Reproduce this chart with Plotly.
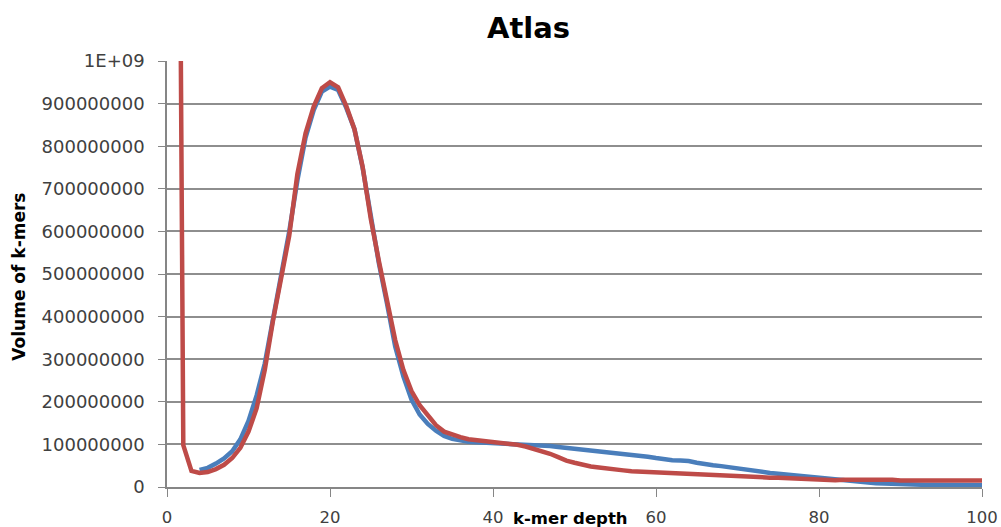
import plotly.graph_objects as go

# ---- data ----
red_depth = list(range(1, 101))
red_volume = [
    3.1e9, 98e6, 38e6, 33e6, 35e6, 42e6, 52e6, 68e6, 92e6, 130e6,
    185e6, 275e6, 390e6, 490e6, 590e6, 735e6, 830e6, 893e6, 936e6, 950e6,
    938e6, 894e6, 840e6, 752e6, 630e6, 530e6, 440e6, 345e6, 275e6, 225e6,
    192e6, 168e6, 145e6, 130e6, 123e6, 117e6, 112e6, 110e6, 108e6, 106e6,
    104e6, 102e6, 99e6, 95e6, 90e6, 85e6, 78e6, 70e6, 62e6, 57e6,
    52e6, 48e6, 46e6, 43e6, 41e6, 39e6, 37e6, 36e6, 35e6, 34e6,
    33e6, 32e6, 32e6, 32e6, 30e6, 28e6, 28e6, 28e6, 27e6, 26e6,
    24e6, 23e6, 23e6, 22e6, 22e6, 21e6, 21e6, 20e6, 19e6, 17e6,
    16e6, 16e6, 17e6, 17e6, 18e6, 18e6, 18e6, 18e6, 17e6, 15e6,
    15e6, 15e6, 15e6, 15e6, 15e6, 15e6, 15e6, 15e6, 15e6, 15e6,
]

blue_depth = list(range(4, 101))
blue_volume = [
    40e6, 45e6, 55e6, 67e6, 84e6, 112e6, 155e6,
    215e6, 290e6, 395e6, 500e6, 600e6, 720e6, 820e6, 885e6, 928e6, 940e6,
    932e6, 890e6, 840e6, 750e6, 630e6, 525e6, 430e6, 330e6, 260e6, 205e6,
    170e6, 148e6, 132e6, 120e6, 113e6, 109e6, 106e6, 105e6, 104e6, 103e6,
    103e6, 103e6, 102e6, 101e6, 100e6, 98e6, 96e6, 94e6, 92e6, 91e6,
    89e6, 87e6, 85e6, 83e6, 81e6, 79e6, 77e6, 74e6, 71e6, 68e6,
    65e6, 63e6, 62e6, 61e6, 57e6, 53e6, 51e6, 49e6, 46e6, 43e6,
    40e6, 37e6, 35e6, 33e6, 31e6, 29e6, 27e6, 25e6, 23e6, 21e6,
    19e6, 18e6, 16e6, 14e6, 12e6, 11e6, 9e6, 8e6, 7e6, 6e6,
    5e6, 5e6, 5e6, 5e6, 5e6, 4e6, 4e6, 4e6, 4e6, 4e6,
]

x_ticks = [0, 20, 40, 60, 80, 100]
y_ticks = [0, 1e8, 2e8, 3e8, 4e8, 5e8, 6e8, 7e8, 8e8, 9e8, 1e9]
y_tick_labels = ["0", "100000000", "200000000", "300000000", "400000000",
                 "500000000", "600000000", "700000000", "800000000",
                 "900000000", "1E+09"]

title_text = "Atlas"
x_title = "k-mer depth"
y_title = "Volume of k-mers"

FONT = "DejaVu Sans"

fig = go.Figure()
fig.add_trace(go.Scatter(x=blue_depth, y=blue_volume, mode="lines",
                         line=dict(color="#4A7EBB", width=4.5),
                         showlegend=False))
fig.add_trace(go.Scatter(x=red_depth, y=red_volume, mode="lines",
                         line=dict(color="#BE4B48", width=4.5),
                         showlegend=False))

fig.update_layout(
    width=1001, height=527,
    margin=dict(l=167, r=19, t=61, b=40),
    paper_bgcolor="white", plot_bgcolor="white",
    font=dict(family=FONT, color="#404040"),
)

fig.update_xaxes(
    range=[0, 100], tickvals=x_ticks,
    ticks="outside", ticklen=8, tickcolor="#868686",
    showline=True, linecolor="#868686", linewidth=1.5,
    showgrid=False, zeroline=False, automargin=False,
    ticklabelstandoff=6,
    tickfont=dict(family=FONT, size=16.5, color="#404040"),
)
fig.update_yaxes(
    range=[0, 1e9], tickvals=y_ticks, ticktext=y_tick_labels,
    ticks="outside", ticklen=7, tickcolor="#868686",
    showline=True, linecolor="#868686", linewidth=1.5,
    showgrid=True, gridcolor="#8E8E8E", gridwidth=1.5,
    zeroline=False, automargin=False,
    ticklabelstandoff=10,
    tickfont=dict(family=FONT, size=18, color="#404040"),
)

fig.add_annotation(text="<b>" + title_text + "</b>", xref="paper", yref="paper",
                   x=0.443, y=1.078, xanchor="center", yanchor="middle",
                   showarrow=False, font=dict(family=FONT, size=29, color="#000000"))
fig.add_annotation(text="<b>" + x_title + "</b>", xref="paper", yref="paper",
                   x=0.495, y=-0.073, xanchor="center", yanchor="middle",
                   showarrow=False, font=dict(family=FONT, size=16.5, color="#000000"))
fig.add_annotation(text="<b>" + y_title + "</b>", xref="paper", yref="paper",
                   x=-0.182, y=0.493, xanchor="center", yanchor="middle",
                   textangle=-90,
                   showarrow=False, font=dict(family=FONT, size=17, color="#000000"))

fig.write_html("out.html")
